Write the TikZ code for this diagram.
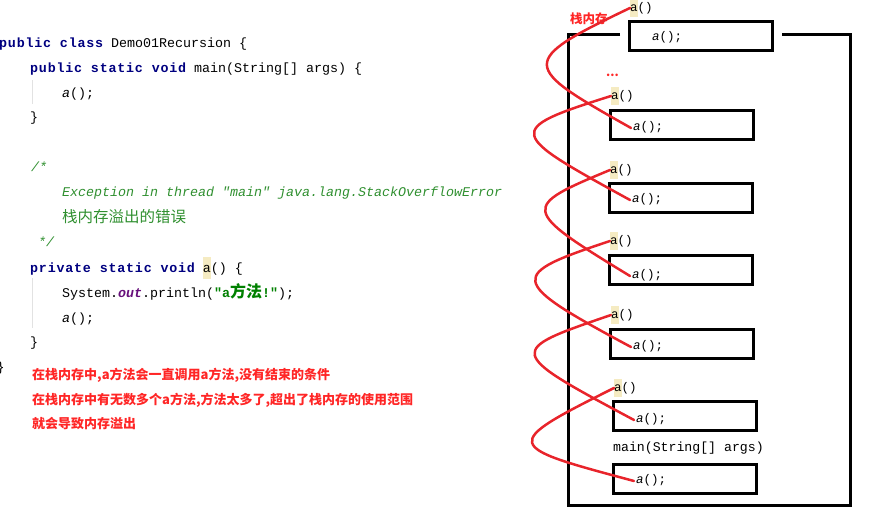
\documentclass[tikz,border=0pt]{standalone}
\usepackage{fontspec}
\newfontfamily\codefont{Liberation Mono}
\newfontfamily\cjk{Noto Sans CJK SC}
\definecolor{kwblue}{HTML}{000080}
\definecolor{cmtgreen}{HTML}{2F8F2F}
\definecolor{strgreen}{HTML}{008000}
\definecolor{outpurple}{HTML}{660E7A}
\definecolor{notered}{HTML}{FF2626}
\definecolor{curvered}{HTML}{E8242B}
\definecolor{hly}{HTML}{F5EBC2}
\definecolor{guidegray}{HTML}{E2E2E2}
\newcommand{\kwd}[1]{{\bfseries\addfontfeature{LetterSpace=6}\color{kwblue}#1}}
\newcommand{\hla}{{\setlength{\fboxsep}{0pt}\colorbox{hly}{\strut a}}}

\begin{document}
\begin{tikzpicture}[x=1pt,y=-1pt,
    codeline/.style={anchor=west, inner sep=0pt, text height=10pt, text depth=3pt,
      font=\codefont\fontsize{13.33}{22}\selectfont},
    note/.style={anchor=west, inner sep=0pt, text=notered,
      font=\cjk\bfseries\fontsize{13}{16}\selectfont},
    frame/.style={draw, line width=3pt, minimum width=143pt, minimum height=29pt, inner sep=0pt},
    call/.style={anchor=west, inner sep=2pt, text height=9pt, text depth=3pt,
      font=\codefont\fontsize{12.5}{16}\selectfont},
    calllbl/.style={anchor=west, inner sep=0pt, font=\codefont\fontsize{12.5}{18}\selectfont},
    guide/.style={draw=guidegray, line width=1pt},
    recurse/.style={draw=curvered, line width=2.5pt, line cap=round}]
    \useasboundingbox (0,0) rectangle (876,526);

    \draw[guide] (32,80) -- (32,104);
    \draw[guide] (32,278) -- (32,328);
    \node[codeline] (cls) at (-1,44) {\kwd{public class} Demo01Recursion \{};
    \node[codeline] (mainsig) at (30,69) {\kwd{public static void} main(String[] args) \{};
    \node[codeline] (maincall) at (62,94) {{\itshape a}();};
    \node[codeline] (mainend) at (30,118) {\}};
    \node[codeline, text=cmtgreen] (cmtopen) at (31,168) {\itshape /*};
    \node[codeline, text=cmtgreen] (cmtexc) at (62,193) {\itshape Exception in thread "main" java.lang.StackOverflowError};
    \node[codeline, text=cmtgreen] (cmtcn) at (62,219) {\cjk\fontsize{15.5}{22}\selectfont 栈内存溢出的错误};
    \node[codeline, text=cmtgreen] (cmtclose) at (38,243) {\itshape */};
    \node[codeline] (asig) at (30,269) {\kwd{private static void} \hla() \{};
    \node[codeline] (print) at (62,294) {System.{\bfseries\itshape\color{outpurple}out}.println({\bfseries\color{strgreen}"a{\cjk\fontsize{16}{22}\selectfont 方法}!"});};
    \node[codeline] (acall) at (62,319) {{\itshape a}();};
    \node[codeline] (aend) at (30,343) {\}};
    \node[codeline] (clsend) at (-3.5,368) {\}};
    \node[note] (note1) at (32,375) {在栈内存中,a方法会一直调用a方法,没有结束的条件};
    \node[note] (note2) at (32,400) {在栈内存中有无数多个a方法,方法太多了,超出了栈内存的使用范围};
    \node[note] (note3) at (32,424) {就会导致内存溢出};

    \draw[line width=3pt] (620,34.5) -- (568.5,34.5) -- (568.5,505.5) -- (850.5,505.5) -- (850.5,34.5) -- (782,34.5);
    \node[anchor=west, inner sep=0pt, text=notered, font=\cjk\bfseries\fontsize{12.5}{15}\selectfont] (stacklbl) at (570,19) {栈内存};
    \node[anchor=base west, inner sep=0pt, text=notered, font=\cjk\bfseries\fontsize{12}{15}\selectfont] (dots) at (606,77) {...};

    \node[frame] (box0) at (701,36.5) {};
    \node[frame] (box1) at (682,125.5) {};
    \node[frame] (box2) at (681,198.5) {};
    \node[frame] (box3) at (681,270.5) {};
    \node[frame] (box4) at (682,344) {};
    \node[frame] (box5) at (685,416) {};
    \node[frame] (box6) at (685,479.5) {};

    \node[call] (call0) at (650,38) {{\itshape a}();};
    \node[call] (call1) at (631,128) {{\itshape a}();};
    \node[call] (call2) at (630,200) {{\itshape a}();};
    \node[call] (call3) at (630,276) {{\itshape a}();};
    \node[call] (call4) at (631,347) {{\itshape a}();};
    \node[call] (call5) at (634,420) {{\itshape a}();};
    \node[call] (call6) at (634,481) {{\itshape a}();};
    \node[call, font=\codefont\fontsize{13.2}{16}\selectfont] (mainlbl) at (611,449) {main(String[] args)};

    \node[calllbl] (lbl0) at (630,8) {\hla()};
    \node[calllbl] (lbl1) at (611,96) {\hla()};
    \node[calllbl] (lbl2) at (610,170) {\hla()};
    \node[calllbl] (lbl3) at (610,241) {\hla()};
    \node[calllbl] (lbl4) at (611,315) {\hla()};
    \node[calllbl] (lbl5) at (614,388) {\hla()};

    \draw[recurse] (call6.west) .. controls +(-131,-35) and +(-114,57) .. (lbl5.west);
    \draw[recurse] (call5.west) .. controls +(-129,-69) and +(-105,36) .. (lbl4.west);
    \draw[recurse] (call4.west) .. controls +(-125,-67) and +(-102,34) .. (lbl3.west);
    \draw[recurse] (call3.west) .. controls +(-110,-67) and +(-89,37) .. (lbl2.west);
    \draw[recurse] (call2.west) .. controls +(-122,-67) and +(-108,34) .. (lbl1.west);
    \draw[recurse] (call1.west) .. controls +(-110,-62) and +(-113,54) .. (lbl0.west);
\end{tikzpicture}
\end{document}
